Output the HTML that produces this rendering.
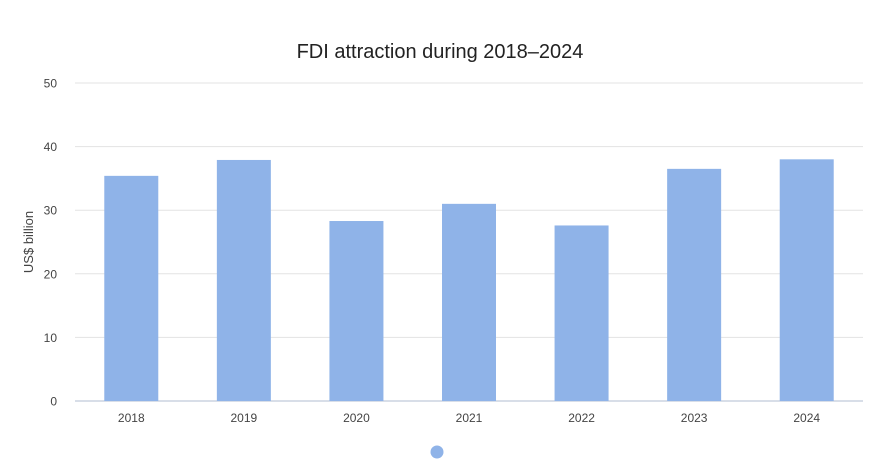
<!DOCTYPE html>
<html><head><meta charset="utf-8"><style>
html,body{margin:0;padding:0;background:#fff;}
svg{display:block;font-family:"Liberation Sans",sans-serif;}
</style></head><body>
<svg id="chart" width="883" height="470" viewBox="0 0 883 470">
<text x="440" y="58" text-anchor="middle" font-size="20" fill="#222">FDI attraction during 2018–2024</text>
<text transform="translate(33,242) rotate(-90)" text-anchor="middle" font-size="13" fill="#444">US$ billion</text>
<g id="grid"></g><g id="bars"></g><g id="xlabels"></g>
<circle cx="437" cy="452" r="6.5" fill="#8fb3e8"/>
</svg>
<script>
const categories=["2018","2019","2020","2021","2022","2023","2024"];
const values=[35.4,37.9,28.3,31.0,27.6,36.5,38.0];
const yTicks=[0,10,20,30,40,50];
const ns="http://www.w3.org/2000/svg";
const x0=75,x1=863,yBase=401,yTop=83,yMax=50;
const y=v=>yBase-(v/yMax)*(yBase-yTop);
const band=(x1-x0)/categories.length;
const xc=i=>x0+band*(i+0.5);
const grid=document.getElementById('grid'),bars=document.getElementById('bars'),xl=document.getElementById('xlabels');
yTicks.forEach(t=>{
 const l=document.createElementNS(ns,'line');
 
 
 l.setAttribute('x1',x0);l.setAttribute('x2',x1);l.setAttribute('y1',y(t));l.setAttribute('y2',y(t));
 l.setAttribute('stroke',t===0?'#ccd3e0':'#e3e3e3');l.setAttribute('stroke-width',t===0?1.5:1);
 grid.appendChild(l);
 const tx=document.createElementNS(ns,'text');
 
 
 tx.setAttribute('x',57);tx.setAttribute('y',y(t)+4.5);tx.setAttribute('text-anchor','end');
 tx.setAttribute('font-size','12');tx.setAttribute('fill','#444');tx.textContent=t;
 grid.appendChild(tx);
});
categories.forEach((c,i)=>{
 const w=54;
 const r=document.createElementNS(ns,'rect');
 
 
 r.setAttribute('x',xc(i)-w/2);r.setAttribute('y',y(values[i]));
 r.setAttribute('width',w);r.setAttribute('height',yBase-y(values[i]));
 r.setAttribute('fill','#8fb3e8');
 bars.appendChild(r);
 const tx=document.createElementNS(ns,'text');
 
 
 tx.setAttribute('x',xc(i));tx.setAttribute('y',422);tx.setAttribute('text-anchor','middle');
 tx.setAttribute('font-size','12');tx.setAttribute('fill','#444');tx.textContent=c;
 xl.appendChild(tx);
});
</script>
</body></html>
